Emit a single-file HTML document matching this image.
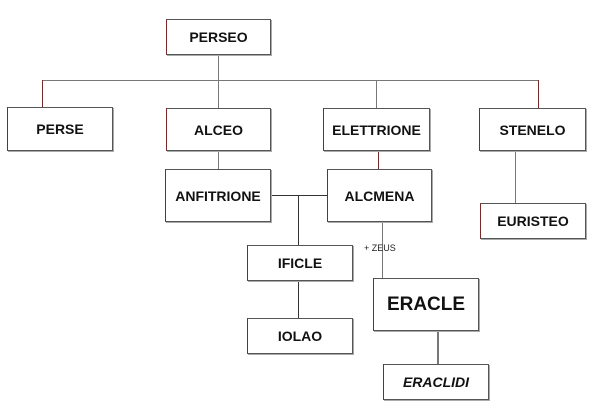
<!DOCTYPE html>
<html><head><style>
body{margin:0;width:600px;height:411px;background:#fff;position:relative;font-family:"Liberation Sans",Arial,sans-serif;overflow:hidden}
.b{position:absolute;border:1px solid #555;border-left-color:#7a2a2a;box-sizing:border-box;display:flex;align-items:center;justify-content:center;font-weight:bold;font-size:14px;color:#111;box-shadow:1px 1px 0 #aaa}
.l{position:absolute;background:#777}
</style></head><body>
<div class="l" style="left:218px;top:54px;width:1px;height:54px"></div>
<div class="l" style="left:42px;top:80px;width:496px;height:1px"></div>
<div class="l" style="left:42px;top:80px;width:1px;height:27px;background:#7a2a2a"></div>
<div class="l" style="left:376px;top:80px;width:1px;height:28px"></div>
<div class="l" style="left:538px;top:80px;width:1px;height:28px;background:#7a2a2a"></div>
<div class="l" style="left:218px;top:151px;width:1px;height:18px"></div>
<div class="l" style="left:378px;top:150px;width:1px;height:19px;background:#7a2a2a"></div>
<div class="l" style="left:515px;top:150px;width:1px;height:53px"></div>
<div class="l" style="left:270px;top:195px;width:57px;height:1px;background:#333"></div>
<div class="l" style="left:298px;top:195px;width:1px;height:50px;background:#333"></div>
<div class="l" style="left:298px;top:280px;width:1px;height:38px;background:#333"></div>
<div class="l" style="left:382px;top:222px;width:1px;height:56px"></div>
<div class="l" style="left:437px;top:330px;width:2px;height:34px"></div>
<div style="position:absolute;left:364px;top:243px;font-size:9px;color:#222">+ ZEUS</div>
<div class="b" style="left:166px;top:19px;width:105px;height:36px">PERSEO</div>
<div class="b" style="left:7px;top:107px;width:106px;height:44px">PERSE</div>
<div class="b" style="left:166px;top:108px;width:105px;height:43px">ALCEO</div>
<div class="b" style="left:323px;top:108px;width:107px;height:43px">ELETTRIONE</div>
<div class="b" style="left:479px;top:108px;width:107px;height:43px">STENELO</div>
<div class="b" style="left:165px;top:169px;width:106px;height:53px">ANFITRIONE</div>
<div class="b" style="left:327px;top:169px;width:105px;height:53px">ALCMENA</div>
<div class="b" style="left:480px;top:203px;width:106px;height:36px">EURISTEO</div>
<div class="b" style="left:247px;top:245px;width:106px;height:36px">IFICLE</div>
<div class="b" style="left:247px;top:318px;width:106px;height:36px">IOLAO</div>
<div class="b" style="left:373px;top:278px;width:106px;height:53px;font-size:19px">ERACLE</div>
<div class="b" style="left:383px;top:364px;width:106px;height:36px;font-style:italic">ERACLIDI</div>
</body></html>
